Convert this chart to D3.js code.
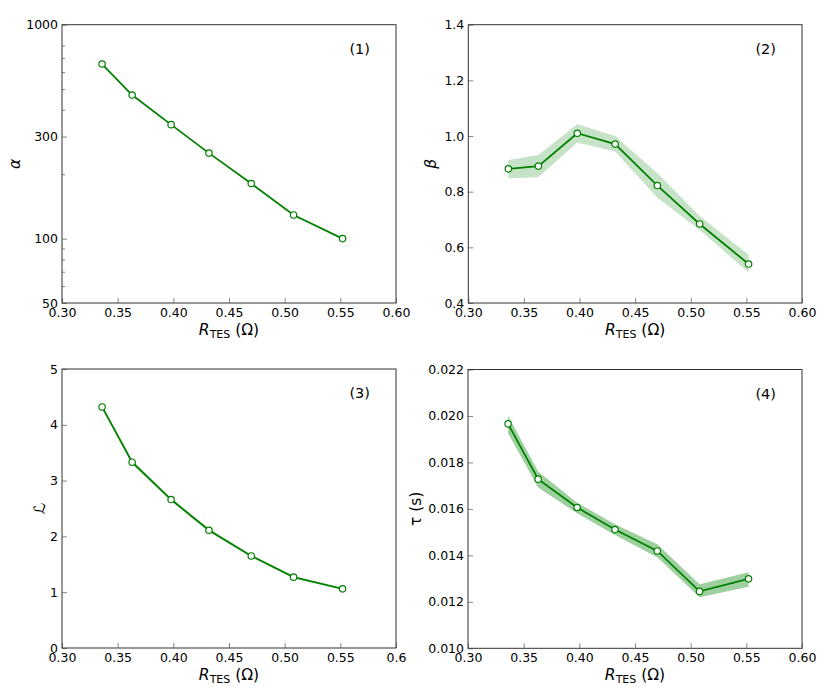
<!DOCTYPE html>
<html>
<head>
<meta charset="utf-8">
<script src="https://cdn.jsdelivr.net/npm/d3@7"></script>
<style>
  body { margin: 0; background: #fff; }
  svg { font-family: "DejaVu Sans", sans-serif; }
</style>
</head>
<body>
<svg id="chart" width="830" height="699"></svg>
<script>
// ---------------- data ----------------
const rTES = [0.336, 0.363, 0.398, 0.432, 0.470, 0.508, 0.552];

const alphaVals = [655, 469, 341, 251, 181, 129, 100];

const betaVals  = [0.882, 0.892, 1.010, 0.971, 0.822, 0.684, 0.540];
const betaLow   = [0.848, 0.852, 0.977, 0.944, 0.778, 0.662, 0.510];
const betaHigh  = [0.914, 0.932, 1.042, 1.000, 0.866, 0.713, 0.573];

const loopVals  = [4.32, 3.33, 2.66, 2.11, 1.65, 1.27, 1.06];
const loopLow   = [4.29, 3.29, 2.63, 2.08, 1.63, 1.25, 1.05];
const loopHigh  = [4.35, 3.37, 2.69, 2.14, 1.67, 1.29, 1.07];

const tauVals   = [0.01966, 0.01728, 0.01606, 0.01511, 0.01419, 0.01245, 0.01299];
const tauLow    = [0.01926, 0.01692, 0.01581, 0.01488, 0.01392, 0.01220, 0.01265];
const tauHigh   = [0.02001, 0.01761, 0.01627, 0.01534, 0.01448, 0.01276, 0.01327];

const xTicks      = [0.30, 0.35, 0.40, 0.45, 0.50, 0.55, 0.60];
const xTickLabels = ["0.30", "0.35", "0.40", "0.45", "0.50", "0.55", "0.60"];
const xTickLabels3 = ["0.30", "0.35", "0.40", "0.45", "0.50", "0.55", "0.6"];

const alphaTicks = [50, 100, 300, 1000];
const alphaTickLabels = ["50", "100", "300", "1000"];
const alphaMinor = [60, 70, 80, 90, 200, 400, 500, 600, 700, 800];

const betaTicks = [0.4, 0.6, 0.8, 1.0, 1.2, 1.4];
const betaTickLabels = ["0.4", "0.6", "0.8", "1.0", "1.2", "1.4"];

const loopTicks = [0, 1, 2, 3, 4, 5];
const loopTickLabels = ["0", "1", "2", "3", "4", "5"];

const tauTicks = [0.010, 0.012, 0.014, 0.016, 0.018, 0.020, 0.022];
const tauTickLabels = ["0.010", "0.012", "0.014", "0.016", "0.018", "0.020", "0.022"];

// ---------------- layout ----------------
const svg = d3.select("#chart");
const GREEN = "#008000";

const panels = [
  { box: [62, 24.7, 396, 303], yType: "log", yDomain: [50, 1000],
    yTicks: alphaTicks, yTickLabels: alphaTickLabels, yMinor: alphaMinor,
    vals: alphaVals, low: null, high: null, bandOpacity: 0,
    xLabels: xTickLabels, yLabel: "α", yLabelX: 20, tag: "(1)" },
  { box: [468.3, 24.7, 802, 303], yType: "lin", yDomain: [0.4, 1.4],
    yTicks: betaTicks, yTickLabels: betaTickLabels, yMinor: [],
    vals: betaVals, low: betaLow, high: betaHigh, bandOpacity: 0.22,
    xLabels: xTickLabels, yLabel: "β", yLabelX: 436, tag: "(2)" },
  { box: [62, 369, 396, 648], yType: "lin", yDomain: [0, 5],
    yTicks: loopTicks, yTickLabels: loopTickLabels, yMinor: [],
    vals: loopVals, low: loopLow, high: loopHigh, bandOpacity: 0.25,
    xLabels: xTickLabels3, yLabel: "ℒ", yLabelX: 45, tag: "(3)" },
  { box: [468, 369.5, 802, 648.3], yType: "lin", yDomain: [0.010, 0.022],
    yTicks: tauTicks, yTickLabels: tauTickLabels, yMinor: [],
    vals: tauVals, low: tauLow, high: tauHigh, bandOpacity: 0.38,
    xLabels: xTickLabels, yLabel: "τ (s)", yLabelX: 421, tag: "(4)" }
];

const TICK_FS = 12.5;

panels.forEach(p => {
  const [x0, y0, x1, y1] = p.box;
  const x = d3.scaleLinear().domain([0.30, 0.60]).range([x0, x1]);
  const y = (p.yType === "log" ? d3.scaleLog() : d3.scaleLinear())
              .domain(p.yDomain).range([y1, y0]);
  const g = svg.append("g");

  // band
  if (p.low) {
    const area = d3.area()
      .x((d, i) => x(rTES[i]))
      .y0((d, i) => y(p.low[i]))
      .y1((d, i) => y(p.high[i]));
    g.append("path").datum(p.vals).attr("d", area)
      .attr("fill", GREEN).attr("fill-opacity", p.bandOpacity).attr("stroke", "none");
  }

  // line
  const line = d3.line().x((d, i) => x(rTES[i])).y(d => y(d));
  g.append("path").datum(p.vals).attr("d", line)
    .attr("fill", "none").attr("stroke", GREEN).attr("stroke-width", 1.8);

  // markers
  g.selectAll("circle.pt").data(p.vals).join("circle")
    .attr("class", "pt")
    .attr("cx", (d, i) => x(rTES[i])).attr("cy", d => y(d)).attr("r", 3.2)
    .attr("fill", "#fff").attr("stroke", GREEN).attr("stroke-width", 1.2);

  // x axis (ticks inward)
  const xAxis = d3.axisBottom(x).tickValues(xTicks)
    .tickFormat((d, i) => p.xLabels[i]).tickSizeInner(-5).tickSizeOuter(0).tickPadding(5);
  const gx = g.append("g").attr("transform", `translate(0,${y1})`).call(xAxis);
  gx.select(".domain").remove();
  gx.selectAll(".tick line").attr("stroke", "#888");
  gx.selectAll(".tick text").attr("font-size", TICK_FS).attr("fill", "#000")
    .attr("font-family", "DejaVu Sans");

  // y axis (ticks inward)
  const yAxis = d3.axisLeft(y).tickValues(p.yTicks)
    .tickFormat((d, i) => p.yTickLabels[i]).tickSizeInner(-5).tickSizeOuter(0).tickPadding(4);
  const gy = g.append("g").attr("transform", `translate(${x0},0)`).call(yAxis);
  gy.select(".domain").remove();
  gy.selectAll(".tick line").attr("stroke", "#888");
  gy.selectAll(".tick text").attr("font-size", TICK_FS).attr("fill", "#000")
    .attr("font-family", "DejaVu Sans");

  if (p.yMinor.length) {
    const yMinAxis = d3.axisLeft(y).tickValues(p.yMinor).tickFormat("")
      .tickSizeInner(-3).tickSizeOuter(0);
    const gm = g.append("g").attr("transform", `translate(${x0},0)`).call(yMinAxis);
    gm.select(".domain").remove();
    gm.selectAll(".tick line").attr("stroke", "#888");
  }

  // frame
  g.append("rect").attr("x", x0).attr("y", y0).attr("width", x1 - x0).attr("height", y1 - y0)
    .attr("fill", "none").attr("stroke", "#333").attr("stroke-width", 1);

  // x label
  const xl = g.append("text").attr("x", (x0 + x1) / 2).attr("y", y1 + 32)
    .attr("text-anchor", "middle").attr("font-size", 15.5).attr("fill", "#000");
  xl.append("tspan").attr("font-style", "italic").text("R");
  xl.append("tspan").attr("font-size", 11).attr("dy", 3).text("TES");
  xl.append("tspan").attr("dy", -3).text(" (Ω)");

  // y label
  g.append("text")
    .attr("transform", `translate(${p.yLabelX},${(y0 + y1) / 2}) rotate(-90)`)
    .attr("text-anchor", "middle").attr("font-size", 15.5)
    .attr("font-style", p.yLabel.length === 1 ? "italic" : "normal")
    .attr("fill", "#000").text(p.yLabel);

  // panel tag
  g.append("text").attr("x", x1 - 26).attr("y", y0 + 29)
    .attr("text-anchor", "end").attr("font-size", 14.5).attr("fill", "#000").text(p.tag);
});
</script>
</body>
</html>
